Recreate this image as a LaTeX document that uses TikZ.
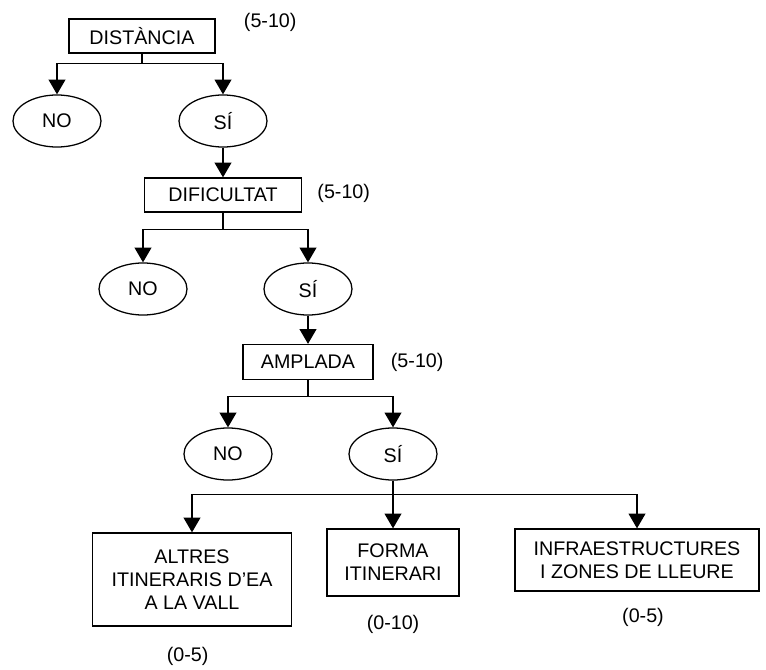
\documentclass[tikz,border=0pt]{standalone}
\usepackage{fontspec}
\setmainfont{Liberation Sans}
\usetikzlibrary{arrows.meta,positioning,shapes.geometric,calc}

\begin{document}
\begin{tikzpicture}[
x=0.025cm, y=-0.025cm,
box/.style={
  draw,
  line width=0.9pt,
  align=center,
  inner sep=0pt,
  font=\fontsize{14}{16.5}\selectfont
  },
opt/.style={
  draw,
  ellipse,
  line width=0.9pt,
  minimum width=2.2cm,
  minimum height=1.3cm,
  inner sep=0pt,
  font=\fontsize{14}{16.5}\selectfont
  },
pts/.style={
  inner sep=0pt,
  font=\fontsize{14}{16.5}\selectfont
  },
ln/.style={
  line width=0.9pt
  },
ar/.style={
  -{Triangle[width=12pt,length=10.5pt]},
  line width=0.9pt
  }
]
\useasboundingbox (0,0) rectangle (766,669);

%The criteria
\node[box,minimum width=3.65cm,minimum height=0.85cm] (dist) at (142,36)
  {DISTÀNCIA};
\node[pts,right=0.7cm of dist,yshift=0.35cm] (pdist)
  {(5-10)};
\node[opt] (no1) at (57,121)
  {NO};
\node[opt] (si1) at (223,121)
  {SÍ};

\node[box,minimum width=3.925cm,minimum height=0.85cm] (dif) at (223,195)
  {DIFICULTAT};
\node[pts,right=0.375cm of dif,yshift=0.05cm] (pdif)
  {(5-10)};
\node[opt] (no2) at (143,289)
  {NO};
\node[opt] (si2) at (308,289)
  {SÍ};

\node[box,minimum width=3.25cm,minimum height=0.875cm] (amp) at (308,362)
  {AMPLADA};
\node[pts,right=0.425cm of amp] (pamp)
  {(5-10)};
\node[opt] (no3) at (228,454)
  {NO};
\node[opt] (si3) at (393,454)
  {SÍ};

%The results
\node[box,minimum width=4.975cm,minimum height=2.325cm] (altres) at (192,579.5)
  {ALTRES\\ITINERARIS D'EA\\A LA VALL};
\node[pts,below=0.5cm of altres,xshift=-0.11cm] (paltres)
  {(0-5)};
\node[box,minimum width=3.3cm,minimum height=1.675cm] (forma) at (393,562.5)
  {FORMA\\ITINERARI};
\node[pts,below=0.45cm of forma] (pforma)
  {(0-10)};
\node[box,minimum width=6.1cm,minimum height=1.55cm] (infra) at (637,560)
  {INFRAESTRUCTURES\\I ZONES DE LLEURE};
\node[pts,below=0.4cm of infra,xshift=0.15cm] (pinfra)
  {(0-5)};

%Aux
\coordinate (j1) at ($ (dist.south)+(0,-0.25cm) $);
\coordinate (j2) at ($ (dif.south)+(0,-0.425cm) $);
\coordinate (j3) at ($ (amp.south)+(0,-0.4cm) $);
\coordinate (j4) at ($ (si3.south)+(0,-0.35cm) $);

\draw[ln]  (dist.south) -- (j1);
\draw[ar]  (j1) -| (no1.north);
\draw[ar]  (j1) -| (si1.north);
\draw[ar]  (si1.south) -- (dif.north);

\draw[ln]  (dif.south) -- (j2);
\draw[ar]  (j2) -| (no2.north);
\draw[ar]  (j2) -| (si2.north);
\draw[ar]  (si2.south) -- (amp.north);

\draw[ln]  (amp.south) -- (j3);
\draw[ar]  (j3) -| (no3.north);
\draw[ar]  (j3) -| (si3.north);

\draw[ln]  (si3.south) -- (j4);
\draw[ar]  (j4) -| (altres.north);
\draw[ar]  (j4) -- (forma.north);
\draw[ar]  (j4) -| (infra.north);

\end{tikzpicture}
\end{document}
